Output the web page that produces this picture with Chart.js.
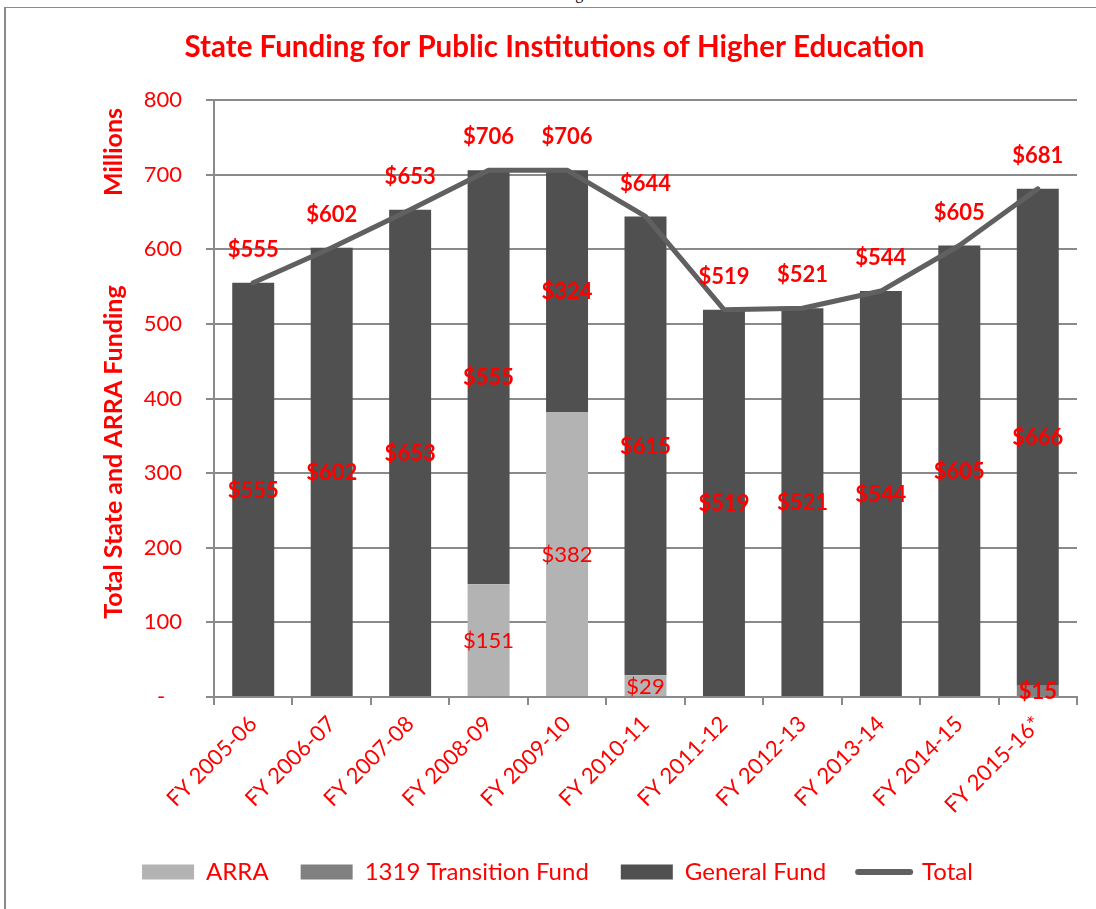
<!DOCTYPE html>
<html>
<head>
<meta charset="utf-8">
<script src="https://cdn.jsdelivr.net/npm/chart.js@4"></script>
<style>
  html, body { margin: 0; padding: 0; background: #fff; overflow: hidden; }
  #wrap { position: relative; width: 1096px; height: 909px; overflow: hidden; }
  #frame { position: absolute; left: 4px; top: 7px; width: 1200px; height: 1000px;
           border-left: 2px solid #8a8a8a; border-top: 1px solid #8a8a8a; }
  #fig { position: absolute; left: 562px; top: -14px; font: 16px "Liberation Serif"; line-height: 16px; color: #000; }
  canvas { position: absolute; left: 0; top: 0; }
</style>
</head>
<body>
<div id="wrap">
  <div id="frame"></div>
  <div id="fig">Figure</div>
  <canvas id="c" width="1096" height="909"></canvas>
</div>
<script>
const categories = ['FY 2005-06','FY 2006-07','FY 2007-08','FY 2008-09','FY 2009-10','FY 2010-11','FY 2011-12','FY 2012-13','FY 2013-14','FY 2014-15','FY 2015-16*'];
const arra        = [0, 0, 0, 151, 382, 29, 0, 0, 0, 0, 0];
const transition  = [0, 0, 0, 0, 0, 0, 0, 0, 0, 0, 15];
const generalFund = [555, 602, 653, 555, 324, 615, 519, 521, 544, 605, 666];
const total       = [555, 602, 653, 706, 706, 644, 519, 521, 544, 605, 681];
const yTicks      = [0, 100, 200, 300, 400, 500, 600, 700, 800];
const seriesNames = ['ARRA', '1319 Transition Fund', 'General Fund', 'Total'];

const RED = '#ff0000';
const FONT = 'Lato';
const colors = ['#b3b3b3', '#808080', '#505050', '#606060'];
const labelBold = [false, true, true];

const decor = {
  id: 'decor',
  afterDatasetsDraw(chart) {
    const ctx = chart.ctx;
    ctx.save();
    ctx.fillStyle = RED;
    ctx.textAlign = 'center';
    ctx.textBaseline = 'middle';
    for (let i = 0; i < 3; i++) {
      const meta = chart.getDatasetMeta(i);
      const data = chart.data.datasets[i].data;
      ctx.font = (labelBold[i] ? 'bold ' : '') + '22px ' + FONT;
      meta.data.forEach((el, j) => {
        const v = data[j];
        if (!v) return;
        const p = el.getProps(['x', 'y', 'base'], true);
        ctx.fillText('$' + v, p.x, (p.y + p.base) / 2 + 1);
      });
    }
    const lmeta = chart.getDatasetMeta(3);
    ctx.font = 'bold 22px ' + FONT;
    lmeta.data.forEach((pt, j) => {
      ctx.fillText('$' + total[j], pt.x, pt.y - 33);
    });
    ctx.restore();
  },
  afterDraw(chart) {
    const ctx = chart.ctx;
    ctx.save();
    ctx.fillStyle = RED;
    ctx.textAlign = 'center';
    ctx.textBaseline = 'alphabetic';
    ctx.font = 'bold 29.5px ' + FONT;
    ctx.fillText('State Funding for Public Institutions of Higher Education', 554.5, 57);
    ctx.font = 'bold 25px ' + FONT;
    ctx.save();
    ctx.translate(122, 152);
    ctx.rotate(-Math.PI / 2);
    ctx.fillText('Millions', 0, 0);
    ctx.restore();
    ctx.save();
    ctx.translate(122, 452);
    ctx.rotate(-Math.PI / 2);
    ctx.fillText('Total State and ARRA Funding', 0, 0);
    ctx.restore();
    ctx.restore();
  }
};

new Chart(document.getElementById('c'), {
  type: 'bar',
  data: {
    labels: categories,
    datasets: [
      { label: seriesNames[0], data: arra, backgroundColor: colors[0], order: 1 },
      { label: seriesNames[1], data: transition, backgroundColor: colors[1], order: 1 },
      { label: seriesNames[2], data: generalFund, backgroundColor: colors[2], order: 1 },
      { type: 'line', label: seriesNames[3], data: total, borderColor: colors[3], backgroundColor: colors[3],
        borderWidth: 5, pointRadius: 0, tension: 0, order: 0, borderCapStyle: 'round', borderJoinStyle: 'round' }
    ]
  },
  options: {
    responsive: false,
    animation: false,
    events: [],
    layout: { padding: { left: 38, right: 19, top: 100, bottom: 15 } },
    datasets: { bar: { barPercentage: 0.535, categoryPercentage: 1.0 } },
    scales: {
      x: {
        stacked: true,
        offset: true,
        grid: { display: true, drawOnChartArea: false, tickLength: 8, color: '#8a8a8a', lineWidth: 2, offset: true },
        border: { display: true, color: '#8a8a8a', width: 2 },
        ticks: { color: RED, font: { family: FONT, size: 22 }, minRotation: 45, maxRotation: 45, padding: 6, autoSkip: false },
        afterFit(scale) { scale.height = 131; }
      },
      y: {
        stacked: true,
        min: 0, max: 800,
        afterBuildTicks(scale) { scale.ticks = yTicks.map(v => ({ value: v })); },
        grid: { color: '#8a8a8a', lineWidth: 2, tickLength: 8 },
        border: { display: true, color: '#8a8a8a', width: 2 },
        ticks: { color: RED, font: { family: FONT, size: 22 }, padding: 24,
                 callback: v => v === 0 ? '-   ' : String(v) },
        afterFit(scale) { scale.width = 176; }
      }
    },
    plugins: {
      title: { display: false },
      tooltip: { enabled: false },
      legend: {
        position: 'bottom',
        labels: {
          color: RED,
          font: { family: FONT, size: 24 },
          padding: 32,
          usePointStyle: true,
          pointStyleWidth: 52,
          boxHeight: 15,
          generateLabels(chart) {
            return seriesNames.map((name, i) => ({
              text: name,
              fillStyle: colors[i],
              strokeStyle: colors[i],
              lineWidth: i === 3 ? 6 : 0,
              lineCap: 'round',
              pointStyle: i === 3 ? 'line' : 'rect',
              fontColor: RED,
              hidden: false,
              datasetIndex: i
            }));
          }
        }
      }
    }
  },
  plugins: [decor]
});
</script>
</body>
</html>
